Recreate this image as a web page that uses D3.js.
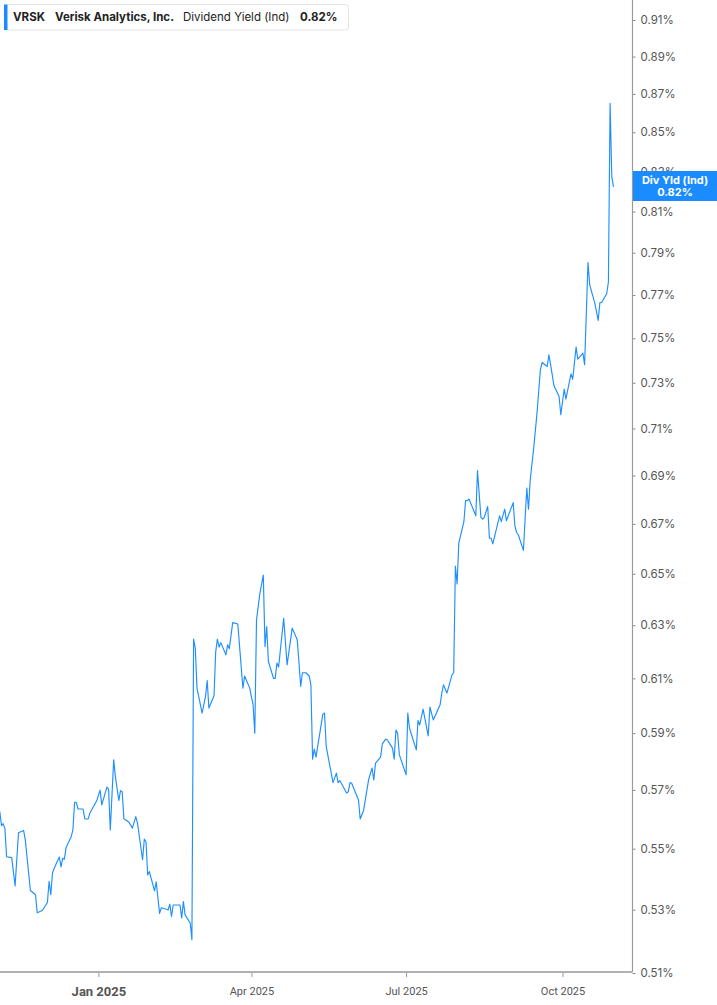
<!DOCTYPE html>
<html><head><meta charset="utf-8">
<script src="https://cdn.jsdelivr.net/npm/d3@7"></script>
<style>
html,body{margin:0;padding:0;background:#fff;}
svg{display:block;font-family:Inter,"Noto Sans",Roboto,sans-serif;}
</style></head>
<body><svg id="chart" width="717" height="1005"></svg>
<script>
const dates = ["2024-11-04","2024-11-05","2024-11-06","2024-11-07","2024-11-08","2024-11-11","2024-11-13","2024-11-15","2024-11-18","2024-11-19","2024-11-22","2024-11-25","2024-11-26","2024-11-29","2024-12-02","2024-12-03","2024-12-04","2024-12-05","2024-12-06","2024-12-09","2024-12-10","2024-12-11","2024-12-12","2024-12-13","2024-12-16","2024-12-17","2024-12-18","2024-12-19","2024-12-20","2024-12-23","2024-12-24","2024-12-26","2024-12-27","2024-12-31",
"2025-01-02","2025-01-03","2025-01-06","2025-01-07","2025-01-08","2025-01-10","2025-01-11","2025-01-13","2025-01-14","2025-01-15","2025-01-16","2025-01-19","2025-01-21","2025-01-23","2025-01-24","2025-01-27","2025-01-28","2025-01-29","2025-01-30","2025-01-31",
"2025-02-03","2025-02-04","2025-02-06","2025-02-07","2025-02-10","2025-02-11","2025-02-12","2025-02-13","2025-02-14","2025-02-18","2025-02-19","2025-02-20","2025-02-21","2025-02-24","2025-02-25","2025-02-26","2025-02-27","2025-02-28",
"2025-03-03","2025-03-05","2025-03-06","2025-03-07","2025-03-10","2025-03-11","2025-03-12","2025-03-13","2025-03-14","2025-03-17","2025-03-18","2025-03-19","2025-03-21","2025-03-24","2025-03-27","2025-03-28","2025-03-31",
"2025-04-02","2025-04-03","2025-04-04","2025-04-06","2025-04-08","2025-04-09","2025-04-10","2025-04-11","2025-04-14","2025-04-15","2025-04-16","2025-04-17","2025-04-20","2025-04-22","2025-04-25","2025-04-28","2025-04-30",
"2025-05-01","2025-05-03","2025-05-05","2025-05-06","2025-05-07","2025-05-08","2025-05-09","2025-05-13","2025-05-14","2025-05-15","2025-05-19","2025-05-21","2025-05-22","2025-05-23","2025-05-27","2025-05-28","2025-05-29","2025-05-30",
"2025-06-03","2025-06-04","2025-06-06","2025-06-09","2025-06-11","2025-06-12","2025-06-13","2025-06-16","2025-06-17","2025-06-19","2025-06-20","2025-06-23","2025-06-24","2025-06-25","2025-06-26","2025-06-27",
"2025-07-01","2025-07-02","2025-07-03","2025-07-07","2025-07-08","2025-07-09","2025-07-11","2025-07-14","2025-07-15","2025-07-17","2025-07-21","2025-07-22","2025-07-23","2025-07-25","2025-07-28","2025-07-29","2025-07-30","2025-07-31",
"2025-08-01","2025-08-04","2025-08-05","2025-08-06","2025-08-07","2025-08-08","2025-08-11","2025-08-12","2025-08-14","2025-08-15","2025-08-16","2025-08-18","2025-08-19","2025-08-20","2025-08-21","2025-08-25","2025-08-26","2025-08-28","2025-08-29",
"2025-09-02","2025-09-03","2025-09-04","2025-09-05","2025-09-08","2025-09-10","2025-09-11","2025-09-12","2025-09-14","2025-09-16","2025-09-18","2025-09-19","2025-09-22","2025-09-23","2025-09-24","2025-09-26","2025-09-29","2025-09-30",
"2025-10-02","2025-10-03","2025-10-06","2025-10-07","2025-10-09","2025-10-10","2025-10-13","2025-10-14","2025-10-16","2025-10-17","2025-10-20","2025-10-22","2025-10-23","2025-10-24","2025-10-27","2025-10-28","2025-10-29","2025-10-30","2025-10-31"];

const yieldPct = [0.5622,0.5574,0.5581,0.5564,0.5470,0.5467,0.5374,0.5550,0.5558,0.5526,0.5359,0.5345,0.5287,0.5294,0.5320,0.5389,0.5345,0.5416,0.5432,0.5469,0.5436,0.5465,0.5462,0.5501,0.5537,0.5560,0.5654,0.5654,0.5631,0.5631,0.5597,0.5597,0.5617,0.5659,
0.5696,0.5645,0.5706,0.5699,0.5560,0.5802,0.5743,0.5660,0.5694,0.5690,0.5598,0.5586,0.5566,0.5605,0.5583,0.5460,0.5529,0.5520,0.5410,0.5421,
0.5358,0.5387,0.5285,0.5303,0.5298,0.5296,0.5315,0.5275,0.5312,0.5312,0.5270,0.5323,0.5280,0.5254,0.5201,0.6243,0.6209,0.6060,
0.5969,0.6029,0.6088,0.5987,0.6032,0.6196,0.6243,0.6213,0.6230,0.6184,0.6222,0.6207,0.6306,0.6301,0.6060,0.6105,0.6060,
0.5999,0.5896,0.6316,0.6420,0.6491,0.6215,0.6291,0.6159,0.6096,0.6096,0.6153,0.6138,0.6323,0.6146,0.6285,0.6240,0.6066,
0.6117,0.6117,0.6105,0.6072,0.5804,0.5840,0.5811,0.5964,0.5969,0.5849,0.5722,0.5755,0.5722,0.5729,0.5686,0.5690,0.5722,0.5720,
0.5662,0.5597,0.5626,0.5734,0.5773,0.5731,0.5790,0.5811,0.5858,0.5875,0.5872,0.5843,0.5804,0.5908,0.5896,0.5820,
0.5749,0.5969,0.5914,0.5837,0.5942,0.5926,0.5983,0.5887,0.5991,0.5944,0.5999,0.6042,0.6072,0.6042,0.6109,0.6117,0.6527,0.6456,
0.6618,0.6705,0.6792,0.6791,0.6798,0.6781,0.6729,0.6916,0.6723,0.6715,0.6723,0.6767,0.6638,0.6638,0.6615,0.6729,0.6705,0.6756,0.6709,
0.6783,0.6688,0.6661,0.6652,0.6589,0.6843,0.6756,0.6877,0.7007,0.7162,0.7353,0.7386,0.7368,0.7420,0.7376,0.7282,0.7235,0.7155,
0.7267,0.7223,0.7335,0.7311,0.7455,0.7401,0.7428,0.7376,0.7848,0.7743,0.7657,0.7577,0.7660,0.7660,0.7701,0.7755,0.8646,0.8269,0.8218];

const yTicks = [0.51,0.53,0.55,0.57,0.59,0.61,0.63,0.65,0.67,0.69,0.71,0.73,0.75,0.77,0.79,0.81,0.83,0.85,0.87,0.89,0.91];
const xTickDates = ["2025-01-01","2025-04-01","2025-07-01","2025-10-01"];
const xTickLabels = ["Jan 2025","Apr 2025","Jul 2025","Oct 2025"];
const domainDates = ["2024-11-04","2025-11-11"];
const ticker = "VRSK", company = "Verisk Analytics, Inc.", metric = "Dividend Yield (Ind)", lastValue = "0.82%";
const badgeTitle = "Div Yld (Ind)";

const parse = d3.utcParse("%Y-%m-%d");
const data = dates.map((d,i)=>({date:parse(d), v:yieldPct[i]}));

const svg = d3.select("#chart");
const W = 717, H = 1005;
const plotRight = 632.5, plotBottom = 972;
const blue = "#1a8cff";

const x = d3.scaleUtc().domain(domainDates.map(parse)).range([-0.2, 632.2]);
const y = d3.scaleLog().domain([0.51, 0.91]).range([plotBottom, 19]);

svg.append("defs").append("clipPath").attr("id","clip")
  .append("rect").attr("x",0).attr("y",0).attr("width",plotRight).attr("height",plotBottom);

// line
svg.append("path").datum(data)
  .attr("clip-path","url(#clip)")
  .attr("fill","none").attr("stroke","#1e8fff").attr("stroke-width",1.15)
  .attr("stroke-linejoin","round")
  .attr("d", d3.line().x(d=>x(d.date)).y(d=>y(d.v)));

// y axis (right)
const yAxis = d3.axisRight(y).tickValues(yTicks).tickSize(3).tickPadding(5)
  .tickFormat(d=>d.toFixed(2)+"%");
const ya = svg.append("g").attr("transform",`translate(${plotRight},1)`).call(yAxis);
ya.select(".domain").remove();
ya.selectAll(".tick line").attr("stroke","#888");
ya.selectAll(".tick text").attr("fill","#555").attr("font-size",11.5).attr("font-family","Inter,Roboto,sans-serif");
svg.append("line").attr("x1",plotRight).attr("x2",plotRight).attr("y1",0).attr("y2",plotBottom)
  .attr("stroke","#9a9a9a").attr("stroke-width",1.2);

// x axis
const xAxis = d3.axisBottom(x).tickValues(xTickDates.map(parse)).tickSize(5).tickPadding(10)
  .tickFormat((d,i)=>xTickLabels[i]);
const xa = svg.append("g").attr("transform",`translate(0,${plotBottom})`).call(xAxis);
xa.select(".domain").remove();
xa.selectAll(".tick line").attr("stroke","#999");
xa.selectAll(".tick text").attr("fill","#555").attr("font-family","Roboto,Inter,sans-serif")
  .attr("font-weight",(d,i)=>i===0?"bold":"normal")
  .attr("font-size",(d,i)=>i===0?13:11);
svg.append("line").attr("x1",0).attr("x2",plotRight).attr("y1",plotBottom).attr("y2",plotBottom)
  .attr("stroke","#b0b0b0").attr("stroke-width",2);

// right badge (covers part of the 0.83% label, as in the original)
const badge = svg.append("g");
badge.append("rect").attr("x",plotRight+0.5).attr("y",171).attr("width",W-plotRight).attr("height",30).attr("fill",blue);
badge.append("text").attr("x",675).attr("y",184).attr("text-anchor","middle").attr("fill","#fff")
  .attr("font-size",11).attr("font-weight","bold").text(badgeTitle);
badge.append("text").attr("x",675).attr("y",196).attr("text-anchor","middle").attr("fill","#fff")
  .attr("font-size",11).attr("font-weight","bold").text(lastValue);

// legend
const lg = svg.append("g");
lg.append("rect").attr("x",4.5).attr("y",4.5).attr("width",344).attr("height",25.5).attr("rx",3)
  .attr("fill","#fff").attr("stroke","#e3e3e3");
lg.append("rect").attr("x",4).attr("y",4.5).attr("width",3.5).attr("height",25.5).attr("fill",blue);
const lt = lg.append("text").attr("y",21).attr("font-size",11.5).attr("fill","#222");
lt.append("tspan").attr("x",13).attr("font-weight","bold").text(ticker);
lt.append("tspan").attr("x",55).attr("font-weight","bold").text(company);
lt.append("tspan").attr("x",183).text(metric);
lt.append("tspan").attr("x",300).attr("font-weight","bold").text(lastValue);
</script></body></html>
